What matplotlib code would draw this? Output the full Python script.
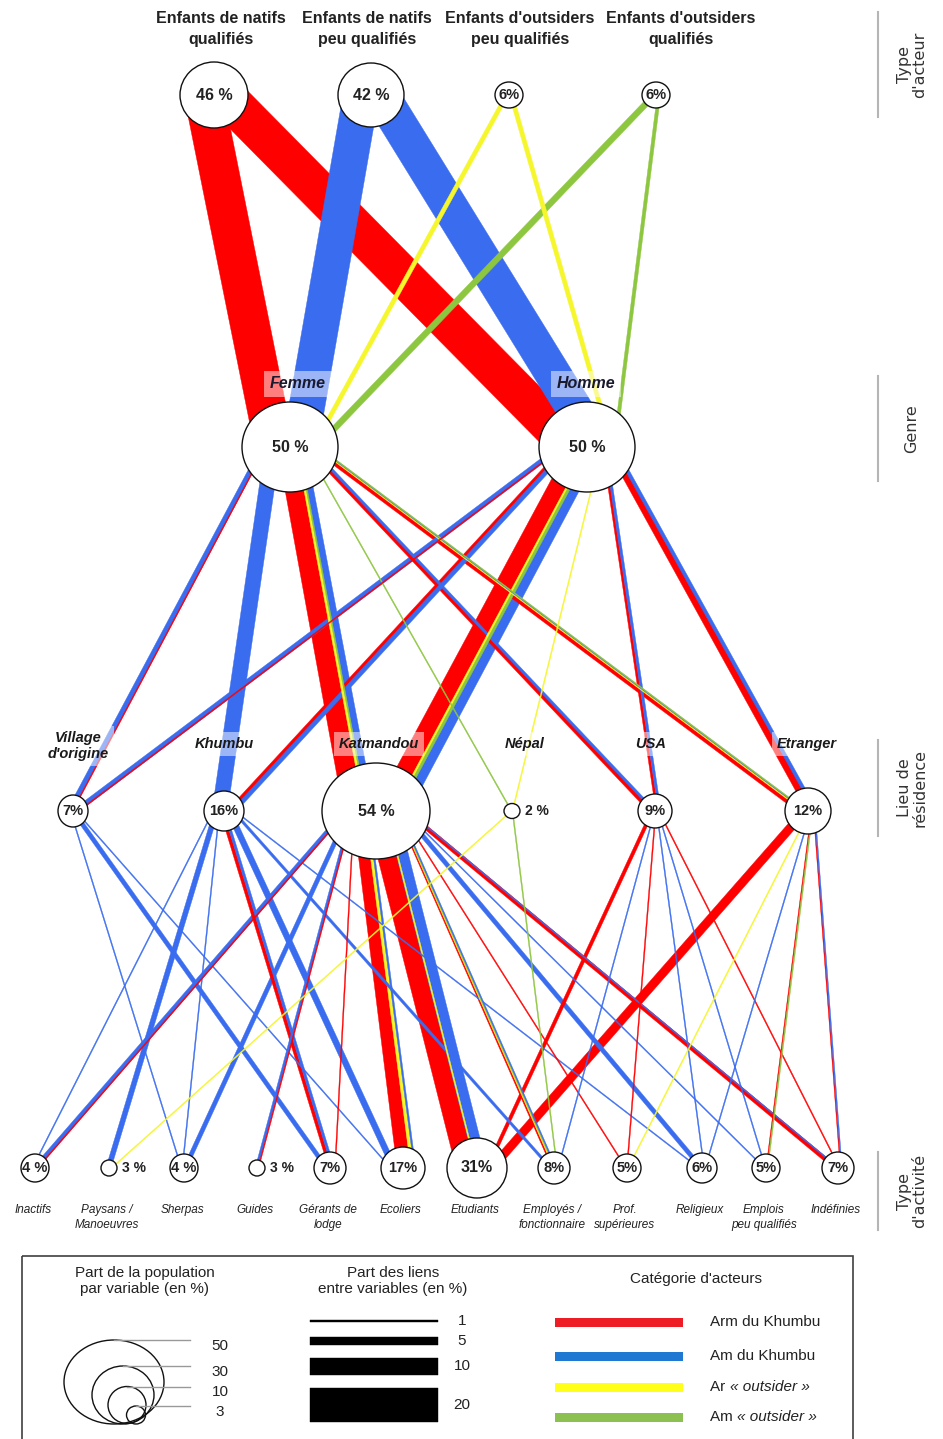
import numpy as np
import matplotlib.pyplot as plt
from matplotlib import font_manager
from matplotlib.patches import Ellipse, Polygon, Rectangle

# ---------------- data ----------------
actor_names = ["Enfants de natifs\nqualifiés", "Enfants de natifs\npeu qualifiés",
               "Enfants d'outsiders\npeu qualifiés", "Enfants d'outsiders\nqualifiés"]
actor_share = ["46 %", "42 %", "6%", "6%"]

genre_names = ["Femme", "Homme"]
genre_share = ["50 %", "50 %"]

lieu_names = ["Village\nd'origine", "Khumbu", "Katmandou", "Népal", "USA", "Etranger"]
lieu_share = ["7%", "16%", "54 %", "2 %", "9%", "12%"]

activite_names = ["Inactifs", "Paysans /\nManoeuvres", "Sherpas", "Guides", "Gérants de\nlodge",
                  "Ecoliers", "Etudiants", "Employés /\nfonctionnaire", "Prof.\nsupérieures",
                  "Religieux", "Emplois\npeu qualifiés", "Indéfinies"]
activite_share = ["4 %", "3 %", "4 %", "3 %", "7%", "17%", "31%", "8%", "5%", "6%", "5%", "7%"]

categories = ["Arm du Khumbu", "Am du Khumbu", "Ar", "Am"]
cat_colors = ["#ff0000", "#3a6cf0", "#f6f62c", "#8dc63f"]
legend_colors = ["#ee1c24", "#1f78d2", "#ffff1a", "#8cc152"]

# links: (source index, target index, category, share of links in %)
links_actor_genre = [
    (0, 0, 0, 23), (0, 1, 0, 23), (1, 0, 1, 21), (1, 1, 1, 21),
    (2, 0, 2, 2.5), (2, 1, 2, 2.5), (3, 0, 3, 3.5), (3, 1, 3, 2),
]
links_genre_lieu = [
    (0, 0, 1, 3), (0, 0, 0, 0.5), (0, 1, 1, 9),
    (0, 2, 0, 12), (0, 2, 2, 1.5), (0, 2, 3, 0.7), (0, 2, 1, 4),
    (0, 3, 3, 0.5), (0, 4, 0, 2.5), (0, 4, 1, 1.5),
    (0, 5, 0, 3), (0, 5, 2, 1), (0, 5, 1, 0.5), (0, 5, 3, 0.5),
    (1, 0, 1, 3), (1, 0, 0, 0.5), (1, 1, 0, 2.5), (1, 1, 1, 2.5),
    (1, 2, 0, 11), (1, 2, 2, 1.5), (1, 2, 3, 1.5), (1, 2, 1, 6),
    (1, 3, 2, 0.5), (1, 4, 0, 1.5), (1, 4, 1, 1.5), (1, 5, 0, 4), (1, 5, 1, 2),
]
links_lieu_activite = [
    (0, 2, 1, 0.5), (0, 4, 1, 2.5), (0, 5, 1, 0.5),
    (1, 0, 1, 0.5), (1, 1, 1, 3), (1, 2, 1, 0.5), (1, 4, 0, 2), (1, 4, 1, 1.5),
    (1, 5, 1, 3.5), (1, 7, 1, 1.5), (1, 9, 1, 0.5),
    (2, 0, 1, 2.5), (2, 0, 0, 0.5), (2, 2, 1, 2.5), (2, 3, 1, 1.5), (2, 3, 0, 0.3),
    (2, 4, 0, 0.5), (2, 5, 0, 8), (2, 5, 2, 2), (2, 5, 1, 1),
    (2, 6, 0, 13), (2, 6, 2, 0.7), (2, 6, 1, 7),
    (2, 7, 0, 1), (2, 7, 2, 0.5), (2, 7, 3, 0.5), (2, 7, 1, 0.5),
    (2, 8, 0, 0.5), (2, 9, 1, 2.5), (2, 10, 1, 0.5), (2, 11, 0, 2.5), (2, 11, 1, 0.5),
    (3, 1, 2, 0.5), (3, 7, 3, 0.5),
    (4, 6, 0, 2), (4, 7, 1, 0.5), (4, 8, 0, 0.5), (4, 9, 1, 0.5), (4, 10, 1, 0.5), (4, 11, 0, 0.5),
    (5, 6, 0, 5), (5, 8, 2, 0.5), (5, 9, 1, 0.5), (5, 10, 0, 0.5), (5, 10, 3, 0.5),
    (5, 11, 0, 0.5), (5, 11, 1, 0.3),
]

legend_sizes = [50, 30, 10, 3]
legend_widths = [1, 5, 10, 20]

# ---------------- layout (pixels) ----------------
row_y = [95, 447, 811, 1168]
row_x = [
    [214, 371, 509, 656],
    [290, 587],
    [73, 224, 376, 512, 655, 808],
    [35, 109, 184, 257, 330, 403, 477, 554, 627, 702, 766, 838],
]
row_size = [
    [(68, 66), (66, 64), (28, 26), (28, 26)],
    [(96, 90), (96, 90)],
    [(30, 32), (40, 40), (108, 96), (16, 15), (34, 34), (46, 46)],
    [(28, 28), (16, 16), (28, 28), (16, 16), (32, 32), (44, 42), (60, 60),
     (32, 32), (28, 28), (30, 30), (28, 28), (32, 32)],
]
PX = 1.7  # pixels per % of links

names = {f.name for f in font_manager.fontManager.ttflist}
narrow = "Liberation Sans Narrow" if "Liberation Sans Narrow" in names else "Liberation Sans"
sans = "Liberation Sans"

fig = plt.figure(figsize=(9.43, 14.39), dpi=100)
ax = fig.add_axes([0, 0, 1, 1])
ax.set_xlim(0, 943)
ax.set_ylim(1439, 0)
ax.axis("off")

# ---------- links ----------
polys = []
for layer, links in enumerate([links_actor_genre, links_genre_lieu, links_lieu_activite]):
    widths = [max(PX * l[3], 1.0) for l in links]
    # port offsets: stacked along each node side, kept inside the node
    down_off, up_off = {}, {}
    for key_self, key_other, row_s, row_o, store in [
            (0, 1, layer, layer + 1, down_off), (1, 0, layer + 1, layer, up_off)]:
        groups = {}
        for i, l in enumerate(links):
            groups.setdefault(l[key_self], []).append(i)
        for node, idx in groups.items():
            idx = sorted(idx, key=lambda i: (row_x[row_o][links[i][key_other]], i))
            total = sum(widths[i] for i in idx)
            scale = min(1.0, 0.6 * row_size[row_s][node][0] / total)
            pos = -total / 2
            for i in idx:
                store[i] = (pos + widths[i] / 2) * scale
                pos += widths[i]
    for i, (s, t, c, v) in enumerate(links):
        p = np.array([row_x[layer][s] + down_off[i], row_y[layer]])
        q = np.array([row_x[layer + 1][t] + up_off[i], row_y[layer + 1]])
        d = (q - p) / np.linalg.norm(q - p)
        n = np.array([-d[1], d[0]]) * widths[i] / 2
        polys.append((widths[i], [p + n, q + n, q - n, p - n], cat_colors[c]))

for w, pts, col in sorted(polys, key=lambda t: -t[0]):
    ax.add_patch(Polygon(pts, closed=True, facecolor=col, edgecolor=col,
                         linewidth=0.3, zorder=2))

# ---------- nodes ----------
shares = [actor_share, genre_share, lieu_share, activite_share]
for r in range(4):
    for i, x in enumerate(row_x[r]):
        w, h = row_size[r][i]
        y = row_y[r]
        ax.add_patch(Ellipse((x, y), w, h, facecolor="white", edgecolor="#111111",
                             linewidth=1.0, zorder=5))
        txt = shares[r][i]
        if w < 20:
            ax.text(x + w / 2 + 5, y, txt, ha="left", va="center", fontsize=10,
                    family=narrow, fontweight="bold", color="#222222", zorder=6)
        else:
            fs = 11.5 if w > 50 else 10.5
            ax.text(x, y, txt, ha="center", va="center", fontsize=fs,
                    family=narrow, fontweight="bold", color="#222222", zorder=6)

# ---------- labels ----------
label_x_actor = [221, 367, 520, 681]
for x, name in zip(label_x_actor, actor_names):
    ax.text(x, 29, name, ha="center", va="center", fontsize=11.5, family=narrow,
            fontweight="bold", color="#222222", linespacing=1.45)

box = dict(boxstyle="square,pad=0.35", facecolor="white", edgecolor="none", alpha=0.5)
for x, name in zip([298, 586], genre_names):
    ax.text(x, 384, name, ha="center", va="center", fontsize=11.5, family=sans,
            fontweight="bold", style="italic", color="#1a1a2e", bbox=box, zorder=4)

label_x_lieu = [78, 224, 379, 525, 651, 807]
for x, name in zip(label_x_lieu, lieu_names):
    y = 746 if "\n" in name else 744
    ax.text(x, y, name, ha="center", va="center", fontsize=10.5, family=sans,
            fontweight="bold", style="italic", color="#1a1a1a", bbox=box, zorder=4,
            linespacing=1.2)

for x, name in zip(row_x[3], activite_names):
    ax.text(x - 2, 1204, name, ha="center", va="top", fontsize=8.5, family=narrow,
            style="italic", color="#222222", linespacing=1.35)

# ---------- right-side headers ----------
side = [("Type\nd'acteur", 12, 117), ("Genre", 376, 481),
        ("Lieu de\nrésidence", 740, 836), ("Type\nd'activité", 1152, 1230)]
for txt, y0, y1 in side:
    ax.plot([878, 878], [y0, y1], color="#b5b5b5", lw=1.5)
    ax.text(912, (y0 + y1) / 2, txt, rotation=90, ha="center", va="center",
            fontsize=11.5, family="DejaVu Sans", color="#333333", linespacing=1.0)

# ---------- legend ----------
ax.add_patch(Rectangle((22, 1256), 831, 200, facecolor="none", edgecolor="#404040", lw=1.2))

ax.text(145, 1281, "Part de la population\npar variable (en %)", ha="center", va="center",
        fontsize=11, family=narrow, color="#222222", linespacing=1.15)
ax.text(393, 1281, "Part des liens\nentre variables (en %)", ha="center", va="center",
        fontsize=11, family=narrow, color="#222222", linespacing=1.15)
ax.text(696, 1279, "Catégorie d'acteurs", ha="center", va="center",
        fontsize=11, family=narrow, color="#222222")

circ_geom = [(114, 1382, 100, 84), (123, 1395, 62, 58), (127, 1405, 38, 37), (136, 1415, 19, 18)]
for val, (cx, cy, w, h) in zip(legend_sizes, circ_geom):
    ax.add_patch(Ellipse((cx, cy), w, h, facecolor="none", edgecolor="#111111", lw=1.0))
    top = cy - h / 2
    ax.plot([cx, 190], [top, top], color="#999999", lw=1.0)
    ax.text(220, top + 6, str(val), ha="center", va="center", fontsize=11,
            family=narrow, color="#222222")

bar_y = [1321, 1341, 1366, 1405]
for val, yc in zip(legend_widths, bar_y):
    h = PX * val
    ax.add_patch(Rectangle((310, yc - h / 2), 128, h, facecolor="black", edgecolor="black", lw=0.3))
    ax.text(462, yc, str(val), ha="center", va="center", fontsize=11,
            family=narrow, color="#222222")

renderer = fig.canvas.get_renderer()
cat_y = [1322, 1356, 1387, 1417]
for k, (yc, col) in enumerate(zip(cat_y, legend_colors)):
    ax.add_patch(Rectangle((555, yc - 4.5), 128, 9, facecolor=col, edgecolor="none"))
    if k < 2:
        ax.text(710, yc, categories[k], ha="left", va="center", fontsize=11,
                family=narrow, color="#222222")
    else:
        t1 = ax.text(710, yc, categories[k] + " ", ha="left", va="center", fontsize=11,
                     family=narrow, color="#222222")
        bb = t1.get_window_extent(renderer)
        x_end = ax.transData.inverted().transform((bb.x1, bb.y0))[0]
        ax.text(x_end, yc, "« outsider »", ha="left", va="center", fontsize=11,
                family=narrow, style="italic", color="#222222")

fig.savefig("out.png", dpi=100)
